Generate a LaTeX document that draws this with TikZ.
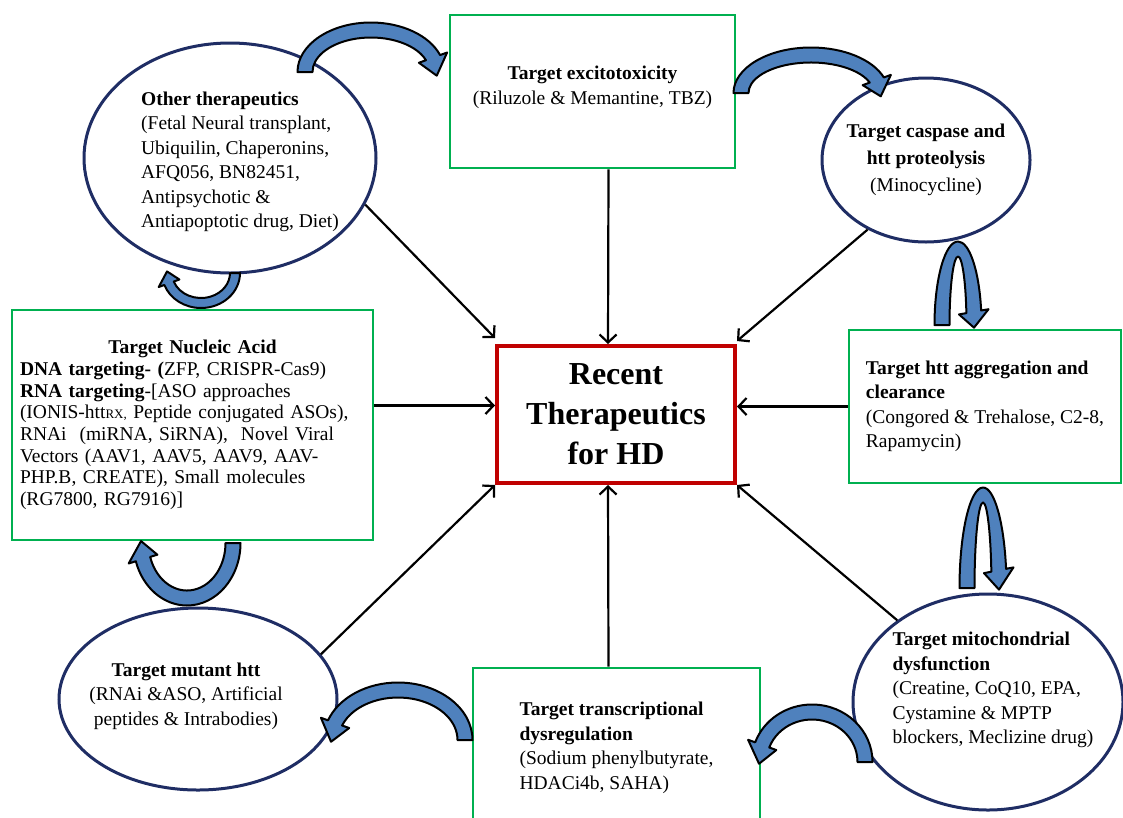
\documentclass[tikz,border=0pt]{standalone}
\usepackage{fontspec}
\setmainfont{Liberation Serif}
\usetikzlibrary{shapes.geometric,arrows.meta}

\definecolor{boxgreen}{RGB}{0,176,80}
\definecolor{hdred}{RGB}{192,0,0}
\definecolor{ovalblue}{RGB}{31,45,100}
\definecolor{bentblue}{RGB}{79,129,189}

% half width of the bent arrows and of their heads
\def\bentw{7.5}
\def\benth{15}
% centre x, centre y, x radius, y radius, start, end of shaft, tip angle
\newcommand\bentarrow[7]{%
  \filldraw[bentarr] ({#1+(#3+\bentw)*cos(#5)},{#2+(#4+\bentw)*sin(#5)})
    arc[start angle=#5, end angle=#6, x radius={#3+\bentw}, y radius={#4+\bentw}]
    -- ({#1+(#3+\benth)*cos(#6)},{#2+(#4+\benth)*sin(#6)})
    -- ({#1+#3*cos(#7)},{#2+#4*sin(#7)})
    -- ({#1+(#3-\benth)*cos(#6)},{#2+(#4-\benth)*sin(#6)})
    -- ({#1+(#3-\bentw)*cos(#6)},{#2+(#4-\bentw)*sin(#6)})
    arc[start angle=#6, end angle=#5, x radius={#3-\bentw}, y radius={#4-\bentw}]
    -- cycle;}

\begin{document}
\begin{tikzpicture}[x=1pt, y=-1pt,
    every node/.style={font=\fontsize{19.5}{24.5}\selectfont},
    greenbox/.style={draw=boxgreen, line width=2.8pt, inner sep=0pt},
    ovalshape/.style={ellipse, draw=ovalblue, line width=3pt, inner sep=0pt},
    conn/.style={line width=2.2pt, -{Straight Barb[length=8pt,width=17pt]}},
    bentarr/.style={fill=bentblue, draw=black, line width=2pt, line join=round}]
  \useasboundingbox (0,0) rectangle (1123,817);

  % centre
  \node[draw=hdred, line width=4pt, minimum width=238pt, minimum height=137pt,
        align=center, font=\fontsize{32}{40}\selectfont\bfseries]
        (hd) at (616,414.5) {Recent\\Therapeutics\\for HD};

  % boxes
  \node[greenbox, minimum width=285pt, minimum height=153pt, align=center]
        (excito) at (592.5,91.5) {\textbf{Target excitotoxicity}\\(Riluzole \& Memantine, TBZ)\\[-12pt]\mbox{}};
  \node[greenbox, minimum width=361pt, minimum height=230pt, text width=345pt,
        align=left, font=\fontsize{19.5}{21.7}\selectfont] (nucleic) at (192.5,425)
        {\centerline{\textbf{Target Nucleic Acid}}
         \textbf{DNA targeting- (}ZFP, CRISPR-Cas9)\\
         \textbf{RNA targeting}-[ASO approaches\\
         (IONIS-htt{\fontsize{13}{15}\selectfont RX,} Peptide conjugated ASOs),\\
         RNAi~ (miRNA, SiRNA), ~Novel Viral\\
         Vectors (AAV1, AAV5, AAV9, AAV-\\
         PHP.B, CREATE), Small molecules\\
         (RG7800, RG7916)]};
  \node[greenbox, minimum width=272pt, minimum height=153pt, align=left]
        (aggreg) at (985,406.5) {\textbf{Target htt aggregation and}\\\textbf{clearance}\\
        (Congored \& Trehalose, C2-8,\\Rapamycin)};
  \node[greenbox, minimum width=287pt, minimum height=160pt, align=left]
        (transcr) at (616.5,748) {\textbf{Target transcriptional}\\\textbf{dysregulation}\\
        (Sodium phenylbutyrate,\\HDACi4b, SAHA)};

  % ellipses
  \node[ovalshape, minimum width=292pt, minimum height=230pt] (other) at (230,158) {};
  \node[align=left] (othertxt) at (240,162) {\textbf{Other therapeutics}\\
        (Fetal Neural transplant,\\Ubiquilin, Chaperonins,\\AFQ056, BN82451,\\
        Antipsychotic \&\\Antiapoptotic drug, Diet)};
  \node[ovalshape, minimum width=208pt, minimum height=164pt] (caspase) at (926,160) {};
  \node[align=center, font=\fontsize{19.5}{27}\selectfont] (caspasetxt) at (926,160)
        {\textbf{Target caspase and}\\\textbf{htt proteolysis}\\(Minocycline)};
  \node[ovalshape, minimum width=278pt, minimum height=182pt] (mutant) at (198,699) {};
  \node[align=center] (mutanttxt) at (186,696) {\textbf{Target mutant htt}\\
        (RNAi \&ASO, Artificial\\peptides \& Intrabodies)};
  \node[ovalshape, minimum width=270pt, minimum height=216pt] (mito) at (988,702) {};
  \node[align=left] (mitotxt) at (993,690) {\textbf{Target mitochondrial}\\\textbf{dysfunction}\\
        (Creatine, CoQ10, EPA,\\Cystamine \& MPTP\\blockers, Meclizine drug)};

  % arrows into the centre
  \coordinate (hdl) at ([yshift=9pt]hd.west);
  \draw[conn] (other.-19) -- ([yshift=6pt]hd.north west);
  \draw[conn] ([xshift=16pt]excito.south) -- ([xshift=-8pt]hd.north);
  \draw[conn] (caspase.230) -- ([yshift=3pt]hd.north east);
  \draw[conn] (nucleic.east |- hdl) -- (hdl);
  \draw[conn] (aggreg.west) -- (aggreg.west -| hd.east);
  \draw[conn] (mutant.20) -- (hd.south west);
  \draw[conn] ([xshift=-8pt]transcr.north) -- ([xshift=-8pt]hd.south);
  \draw[conn] (mito.138) -- (hd.south east);

  % bent arrows round the ring
  \bentarrow{371}{72}{66}{42}{180}{340}{365}
  \bentarrow{811}{93}{70}{38}{180}{340}{365}
  \bentarrow{958}{325}{16}{76}{180}{350}{362}
  \bentarrow{983}{588}{16}{93}{180}{349}{361}
  \bentarrow{812}{762}{53}{50}{0}{-160}{-182}
  \bentarrow{398}{740}{67}{50}{0}{-160}{-182}
  \bentarrow{187}{543}{46}{55}{0}{163}{182}
  {\def\bentw{5}\def\benth{11}\bentarrow{201}{273}{34}{30}{0}{160}{183}}
\end{tikzpicture}
\end{document}
